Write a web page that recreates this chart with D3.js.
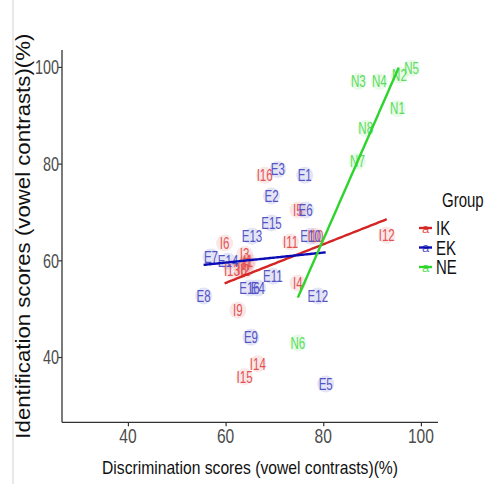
<!DOCTYPE html>
<html>
<head>
<meta charset="utf-8">
<script src="https://cdn.jsdelivr.net/npm/d3@7"></script>
<style>
  html, body { margin: 0; padding: 0; background: #fff; }
  svg { display: block; font-family: "Liberation Sans", Arial, sans-serif; }
</style>
</head>
<body>
<svg id="chart" width="496" height="484"></svg>
<script>
// Participant scores by group: discrimination (x) vs identification (y), in %
const groups = ["IK", "EK", "NE"];

const ikLabels = ["I1","I2","I3","I4","I5","I6","I7","I8","I9","I10","I11","I12","I13","I14","I15","I16"];
const ikDiscrimination = [64.6, 64.0, 63.9, 74.8, 74.8, 59.8, 64.3, 63.4, 62.5, 78.4, 73.3, 93.0, 61.3, 66.6, 63.9, 68.0];
const ikIdentification = [59.8, 58.0, 61.2, 55.3, 70.4, 63.6, 59.3, 58.3, 49.7, 65.0, 63.8, 65.2, 58.0, 38.6, 35.9, 77.6];

const ekLabels = ["E1","E2","E3","E4","E5","E6","E7","E8","E9","E10","E11","E12","E13","E14","E15","E16"];
const ekDiscrimination = [76.2, 69.4, 70.7, 66.6, 80.5, 76.4, 57.0, 55.5, 65.2, 77.4, 69.7, 78.9, 65.4, 60.5, 69.4, 64.9];
const ekIdentification = [77.6, 73.3, 78.8, 54.3, 34.4, 70.4, 60.7, 52.6, 44.1, 65.0, 56.7, 52.6, 65.0, 59.8, 67.7, 54.3];

const neLabels = ["N1","N2","N3","N4","N5","N6","N7","N8"];
const neDiscrimination = [95.2, 95.6, 87.2, 91.5, 98.1, 74.8, 87.0, 88.7];
const neIdentification = [91.4, 98.3, 97.0, 97.0, 99.7, 42.9, 80.5, 87.3];

// Axis limits and tick values (both axes limited to 30–100)
const xLimits = [30, 100];
const yLimits = [30, 100];
const xTicks = [40, 60, 80, 100];
const yTicks = [40, 60, 80, 100];

const xTitle = "Discrimination scores (vowel contrasts)(%)";
const yTitle = "Identification scores (vowel contrasts)(%)";
const legendTitle = "Group";

const lineColors = { IK: "#d42424", EK: "#0c0cb4", NE: "#2cd42c" };
const textColors = { IK: "#e25454", EK: "#5454c4", NE: "#5cdc5c" };

// Assemble rows
const series = [
  { group: "IK", labels: ikLabels, xs: ikDiscrimination, ys: ikIdentification },
  { group: "EK", labels: ekLabels, xs: ekDiscrimination, ys: ekIdentification },
  { group: "NE", labels: neLabels, xs: neDiscrimination, ys: neIdentification }
];
const rows = series.flatMap(s => s.labels.map((lab, i) => ({ group: s.group, label: lab, x: s.xs[i], y: s.ys[i] })));

const svg = d3.select("#chart");
const panel = { left: 62, right: 438, top: 50, bottom: 422.3 };

// Limits expanded by 5% on each side
function expand(lim) { const d = (lim[1] - lim[0]) * 0.05; return [lim[0] - d, lim[1] + d]; }
const x = d3.scaleLinear().domain(expand(xLimits)).range([panel.left, panel.right]);
const y = d3.scaleLinear().domain(expand(yLimits)).range([panel.bottom, panel.top]);

// Helper: place text with a horizontal squeeze
function squeezedText(sel, px, py, sx) {
  return sel.attr("transform", `translate(${px},${py}) scale(${sx},1)`).attr("x", 0).attr("y", 0);
}

// Faint outer frame line at left
svg.append("line").attr("x1", 13).attr("x2", 13).attr("y1", 0).attr("y2", 484)
  .attr("stroke", "#e2e2e2").attr("stroke-width", 1.5);

// Points: large faint discs
const pts = svg.append("g");
pts.selectAll("circle").data(rows).join("circle")
  .attr("cx", d => x(d.x)).attr("cy", d => y(d.y)).attr("r", 8.5)
  .attr("fill", d => lineColors[d.group]).attr("fill-opacity", 0.11);

// Point labels
const labs = svg.append("g");
labs.selectAll("text").data(rows).join("text")
  .each(function(d) { squeezedText(d3.select(this), x(d.x), y(d.y), 0.7); })
  .attr("text-anchor", "middle").attr("dy", "0.36em")
  .attr("font-size", 16.5).attr("fill", d => textColors[d.group])
  .text(d => d.label);

// Least-squares fits, evaluated on 80 points across each group's range,
// dropping values outside the y limits
function fitLine(s) {
  const mx = d3.mean(s.xs), my = d3.mean(s.ys);
  let sxy = 0, sxx = 0;
  s.xs.forEach((xi, i) => { sxy += (xi - mx) * (s.ys[i] - my); sxx += (xi - mx) ** 2; });
  const b = sxy / sxx, a = my - b * mx;
  const [lo, hi] = d3.extent(s.xs);
  const pts = d3.range(80).map(i => { const xv = lo + (hi - lo) * i / 79; return { x: xv, y: a + b * xv }; });
  return pts.filter(p => p.y >= yLimits[0] && p.y <= yLimits[1]);
}
const lineGen = d3.line().x(p => x(p.x)).y(p => y(p.y));
svg.append("g").selectAll("path").data(series).join("path")
  .attr("d", s => lineGen(fitLine(s)))
  .attr("fill", "none").attr("stroke", s => lineColors[s.group]).attr("stroke-width", 2.4);

// Axes
const axisColor = "#333";
const xAxis = svg.append("g").attr("transform", `translate(0,${panel.bottom})`)
  .call(d3.axisBottom(x).tickValues(xTicks).tickSize(4).tickFormat(""));
const yAxis = svg.append("g").attr("transform", `translate(${panel.left},0)`)
  .call(d3.axisLeft(y).tickValues(yTicks).tickSize(4).tickFormat(""));
[xAxis, yAxis].forEach(g => {
  g.select(".domain").attr("stroke", axisColor).attr("stroke-width", 1.3);
  g.selectAll(".tick line").attr("stroke", axisColor).attr("stroke-width", 1.2);
});
xAxis.select(".domain").attr("d", `M${panel.left},0H${panel.right}`);
yAxis.select(".domain").attr("d", `M0,${panel.top}V${panel.bottom}`);

// Tick labels
svg.append("g").selectAll("text").data(xTicks).join("text")
  .each(function(v) { squeezedText(d3.select(this), x(v), panel.bottom + 21, 0.78); })
  .attr("text-anchor", "middle").attr("font-size", 20).attr("fill", "#4d4d4d").text(d => d);
svg.append("g").selectAll("text").data(yTicks).join("text")
  .each(function(v) { squeezedText(d3.select(this), panel.left - 3, y(v), 0.72); })
  .attr("text-anchor", "end").attr("dy", "0.36em").attr("font-size", 20).attr("fill", "#4d4d4d").text(d => d);

// Axis titles
svg.append("text").attr("x", (panel.left + panel.right) / 2).attr("y", 474)
  .attr("text-anchor", "middle").attr("font-size", 19).attr("fill", "#111")
  .attr("textLength", 296).attr("lengthAdjust", "spacingAndGlyphs").text(xTitle);
svg.append("text").attr("transform", `translate(30,${(panel.top + panel.bottom) / 2}) rotate(-90)`)
  .attr("text-anchor", "middle").attr("font-size", 21).attr("fill", "#111")
  .attr("textLength", 405).attr("lengthAdjust", "spacingAndGlyphs").text(yTitle);

// Legend
const leg = svg.append("g");
squeezedText(leg.append("text"), 442, 207, 0.75).attr("font-size", 20).attr("fill", "#111").text(legendTitle);
groups.forEach((g, i) => {
  const cy = 228 + i * 19.5;
  leg.append("text").attr("x", 425.5).attr("y", cy + 4.5).attr("text-anchor", "middle")
    .attr("font-size", 13).attr("fill", textColors[g]).text("a");
  leg.append("line").attr("x1", 419).attr("x2", 432).attr("y1", cy).attr("y2", cy)
    .attr("stroke", lineColors[g]).attr("stroke-width", 2.4);
  squeezedText(leg.append("text"), 436, cy, 0.75).attr("dy", "0.36em")
    .attr("font-size", 20).attr("fill", "#111").text(g);
});
</script>
</body>
</html>
